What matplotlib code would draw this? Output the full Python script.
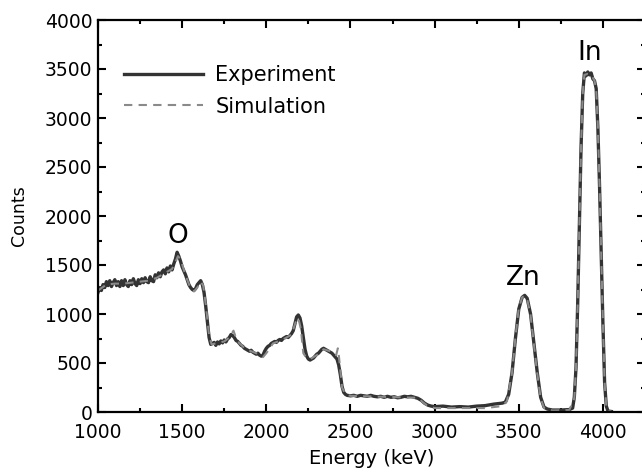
import numpy as np
import matplotlib
matplotlib.use("Agg")
import matplotlib.pyplot as plt
from matplotlib.ticker import MultipleLocator

# values (keV, counts)
exp_energy = [1000, 1010, 1020, 1030, 1040, 1050, 1060, 1070, 1080, 1090,
              1100, 1110, 1120, 1130, 1140, 1150, 1160, 1170, 1180, 1190,
              1200, 1210, 1220, 1230, 1240, 1250, 1260, 1270, 1280, 1290,
              1300, 1310, 1320, 1330, 1340, 1350, 1360, 1370, 1380, 1390,
              1400, 1410, 1420, 1430, 1440, 1450, 1460, 1470, 1480, 1490,
              1500, 1510, 1520, 1530, 1540, 1550, 1560, 1570, 1580, 1590,
              1600, 1610, 1620, 1630, 1640, 1650, 1660, 1670, 1680, 1690,
              1700, 1710, 1720, 1730, 1740, 1750, 1760, 1770, 1780, 1790,
              1800, 1810, 1820, 1830, 1840, 1850, 1860, 1870, 1880, 1890,
              1900, 1910, 1920, 1930, 1940, 1950, 1960, 1970, 1980, 1990,
              2000, 2010, 2020, 2030, 2040, 2050, 2060, 2070, 2080, 2090,
              2100, 2110, 2120, 2130, 2140, 2150, 2160, 2170, 2180, 2190,
              2200, 2210, 2220, 2230, 2240, 2250, 2260, 2270, 2280, 2290,
              2300, 2310, 2320, 2330, 2340, 2350, 2360, 2370, 2380, 2390,
              2400, 2410, 2420, 2430, 2440, 2450, 2460, 2470, 2480, 2500,
              2520, 2540, 2560, 2580, 2600, 2620, 2640, 2660, 2680, 2700,
              2720, 2740, 2760, 2780, 2800, 2820, 2840, 2860, 2880, 2900,
              2920, 2940, 2960, 2980, 3000, 3050, 3100, 3150, 3200, 3250,
              3300, 3350, 3400, 3420, 3440, 3460, 3480, 3500, 3520, 3535,
              3550, 3570, 3590, 3610, 3630, 3650, 3670, 3700, 3750, 3800,
              3820, 3830, 3840, 3850, 3860, 3870, 3880, 3890, 3900, 3910,
              3920, 3930, 3940, 3950, 3960, 3970, 3980, 3990, 4000, 4010,
              4020, 4030, 4050]
exp_counts = [1220, 1270, 1240, 1300, 1270, 1330, 1290, 1340, 1280, 1320,
              1350, 1290, 1330, 1280, 1340, 1290, 1350, 1300, 1280, 1340,
              1300, 1360, 1310, 1290, 1350, 1310, 1360, 1320, 1370, 1330,
              1320, 1380, 1340, 1330, 1400, 1370, 1420, 1380, 1430, 1450,
              1410, 1470, 1430, 1490, 1450, 1510, 1560, 1630, 1590, 1540,
              1480, 1440, 1400, 1350, 1300, 1270, 1250, 1240, 1260, 1300,
              1320, 1340, 1300, 1220, 1080, 920, 760, 690, 700, 710,
              680, 715, 695, 725, 705, 735, 715, 745, 760, 790,
              780, 760, 730, 720, 700, 680, 670, 650, 640, 630,
              620, 630, 610, 600, 590, 600, 580, 570, 580, 620,
              650, 670, 680, 700, 710, 720, 710, 730, 740, 730,
              750, 760, 770, 760, 780, 800, 830, 900, 970, 990,
              960, 880, 760, 640, 570, 540, 530, 540, 550, 570,
              590, 600, 620, 640, 650, 640, 630, 620, 610, 600,
              580, 560, 540, 480, 380, 260, 200, 180, 170, 165,
              170, 160, 170, 165, 160, 170, 160, 155, 160, 150,
              160, 150, 155, 145, 150, 160, 155, 160, 150, 140,
              120, 90, 70, 60, 55, 60, 50, 55, 50, 60,
              65, 80, 90, 100, 180, 400, 750, 1050, 1170, 1190,
              1160, 1000, 700, 400, 150, 50, 30, 20, 20, 25,
              40, 150, 450, 1100, 1900, 2700, 3250, 3460, 3430, 3470,
              3440, 3460, 3400, 3380, 3300, 2900, 2300, 1600, 900, 300,
              60, 10, 5]

sim_energy = [1000, 1050, 1100, 1150, 1200, 1250, 1300, 1350, 1400, 1440,
              1460, 1475, 1490, 1510, 1530, 1550, 1570, 1590, 1610, 1625,
              1640, 1660, 1675, 1700, 1750, 1780, 1805, 1815, 1840, 1880,
              1940, 1980, 2000, 2040, 2100, 2150, 2175, 2190, 2205, 2220,
              2235, 2260, 2300, 2340, 2380, 2415, 2425, 2432, 2450, 2470,
              2500, 2600, 2700, 2800, 2900, 2930, 2960, 3000, 3100, 3200,
              3300, 3350, 3400, 3430, 3460, 3480, 3500, 3520, 3535, 3550,
              3570, 3590, 3610, 3630, 3650, 3700, 3800, 3830, 3840, 3850,
              3860, 3870, 3880, 3890, 3910, 3930, 3950, 3960, 3970, 3980,
              3990, 4000, 4010, 4020, 4030, 4050]
sim_counts = [1240, 1300, 1310, 1310, 1320, 1330, 1340, 1370, 1420, 1460,
              1530, 1590, 1560, 1450, 1350, 1260, 1230, 1270, 1330, 1290,
              1100, 780, 690, 700, 720, 760, 830, 780, 700, 640,
              600, 560, 600, 700, 740, 790, 920, 960, 850, 600,
              560, 540, 580, 640, 620, 580, 650, 560, 250, 180,
              165, 160, 155, 150, 145, 100, 60, 40, 40, 40,
              40, 50, 60, 110, 400, 760, 1060, 1170, 1185, 1150,
              990, 690, 390, 140, 40, 15, 20, 140, 450, 1100,
              1900, 2700, 3250, 3440, 3450, 3440, 3380, 3300, 2900, 2300,
              1600, 900, 300, 60, 10, 5]

peak_labels = ["O", "Zn", "In"]
peak_energy = [1475, 3525, 3923]
peak_height = [1800, 1370, 3660]

fig = plt.figure(figsize=(6.42, 4.75), dpi=100)
ax = fig.add_axes([98/642, 63/475, 547/642, 392/475])

ax.plot(exp_energy, exp_counts, color="#333333", lw=2.4, label="Experiment")
ax.plot(sim_energy, sim_counts, color="#8a8a8a", lw=1.5, ls=(0, (4, 3)),
        label="Simulation")

for lab, e, c in zip(peak_labels, peak_energy, peak_height):
    ax.text(e, c, lab, fontsize=19, ha="center", va="center")

ax.set_xlim(1000, 4250)
ax.set_ylim(0, 4000)
ax.xaxis.set_major_locator(MultipleLocator(500))
ax.xaxis.set_minor_locator(MultipleLocator(250))
ax.yaxis.set_major_locator(MultipleLocator(500))
ax.yaxis.set_minor_locator(MultipleLocator(250))
ax.tick_params(which="both", direction="in", top=True, right=True,
               labelsize=13.5, width=1.5)
ax.tick_params(axis="x", pad=8)
ax.tick_params(axis="y", pad=4)
ax.tick_params(which="major", length=6)
ax.tick_params(which="minor", length=3)
for s in ax.spines.values():
    s.set_linewidth(1.6)

ax.set_xlabel("Energy (keV)", fontsize=14, labelpad=5)
ax.set_ylabel("Counts", fontsize=12.5, labelpad=12)

ax.legend(loc="upper left", bbox_to_anchor=(0.047, 0.885), frameon=False,
          fontsize=15, handlelength=3.8, handletextpad=0.6,
          labelspacing=0.55, borderpad=0, borderaxespad=0)

plt.savefig("out.png", dpi=100)
